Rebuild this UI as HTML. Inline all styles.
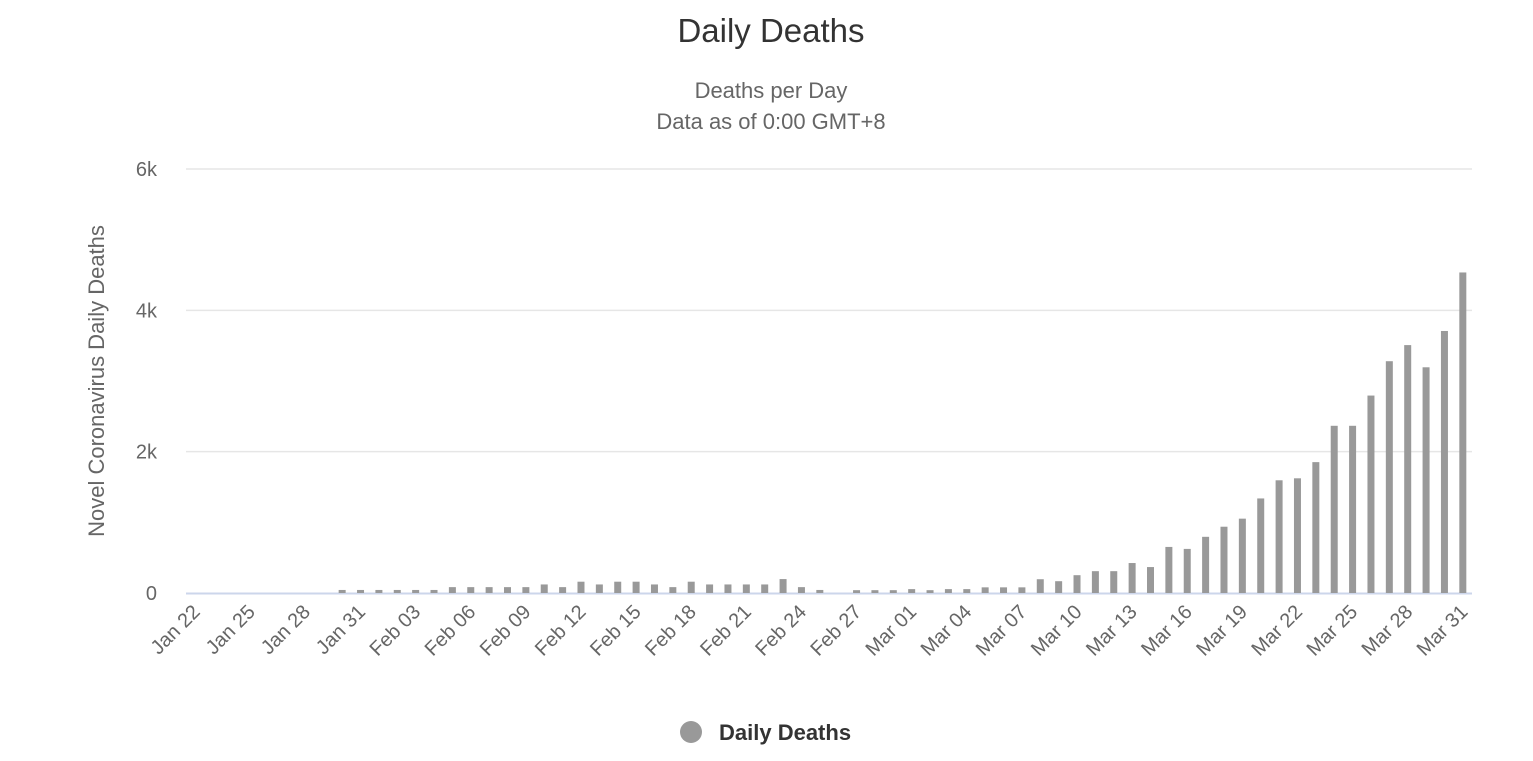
<!DOCTYPE html>
<html><head><meta charset="utf-8"><style>
body{margin:0;background:#fff;}
svg{display:block;font-family:"Liberation Sans",sans-serif;}
</style></head><body>
<svg id="chart" width="1533" height="761">
<text x="771" y="42" text-anchor="middle" font-size="33" fill="#333">Daily Deaths</text>
<text x="771" y="98" text-anchor="middle" font-size="22" fill="#666">Deaths per Day</text>
<text x="771" y="129" text-anchor="middle" font-size="22" fill="#666">Data as of 0:00 GMT+8</text>
<text transform="translate(104,381) rotate(-90)" text-anchor="middle" font-size="22" fill="#666">Novel Coronavirus Daily Deaths</text>
<g id="grid"></g><g id="bars"></g><g id="xlabels"></g>
<g>
<circle cx="691" cy="732" r="11" fill="#999"/>
<text x="719" y="740" font-size="22" font-weight="bold" fill="#333">Daily Deaths</text>
</g>
</svg>
<script>
const categories=[];
const months=[["Jan",22,31],["Feb",1,29],["Mar",1,31]];
for(const [m,a,b] of months){for(let d=a;d<=b;d++)categories.push(m+" "+String(d).padStart(2,"0"));}
const deaths=[0,0,0,0,0,0,0,0,43,43,43,43,43,43,83,83,83,83,83,121,83,160,121,160,160,121,83,160,121,121,121,121,197,83,43,0,
40,40,40,55,40,55,55,80,80,80,195,167,252,309,309,424,367,652,624,795,938,1052,1338,1595,1623,1852,2366,2366,2794,3280,3508,3194,3708,4536];
const yTicks=[0,2000,4000,6000];
const yTickLabels=["0","2k","4k","6k"];
const NS="http://www.w3.org/2000/svg";
const L=186,R=1472,T=169,B=593,yMax=6000;
const step=(R-L)/categories.length;
const xc=i=>L+step*(i+0.5);
const y=v=>B-(v/yMax)*(B-T);
const grid=document.getElementById("grid"),bars=document.getElementById("bars"),xl=document.getElementById("xlabels");
function mk(tag,attrs,parent){const e=document.createElementNS(NS,tag);for(const k in attrs)e.setAttribute(k,attrs[k]);parent.appendChild(e);return e;}
yTicks.forEach((v,k)=>{
  if(v>0){const g=mk("line",{x1:L,x2:R,y1:y(v),y2:y(v),stroke:"#e6e6e6","stroke-width":1.5},grid);
  
  }
  const t=mk("text",{x:157,y:y(v)+7,"text-anchor":"end","font-size":20,fill:"#666"},grid);
  t.textContent=yTickLabels[k];
  
  
});
const ax=mk("line",{x1:L,x2:R,y1:B+0.5,y2:B+0.5,stroke:"#ccd6eb","stroke-width":2},grid);


deaths.forEach((v,i)=>{
  if(v<=0)return;
  const r=mk("rect",{x:xc(i)-3.5,y:y(v),width:7,height:B-y(v),fill:"#999"},bars);
  
  
});
categories.forEach((c,i)=>{
  if(i%3!==0)return;
  const t=mk("text",{transform:`translate(${xc(i)+6},${B+20}) rotate(-45)`,"text-anchor":"end","font-size":20,fill:"#666"},xl);
  t.textContent=c;
  
  
});
</script>
</body></html>
